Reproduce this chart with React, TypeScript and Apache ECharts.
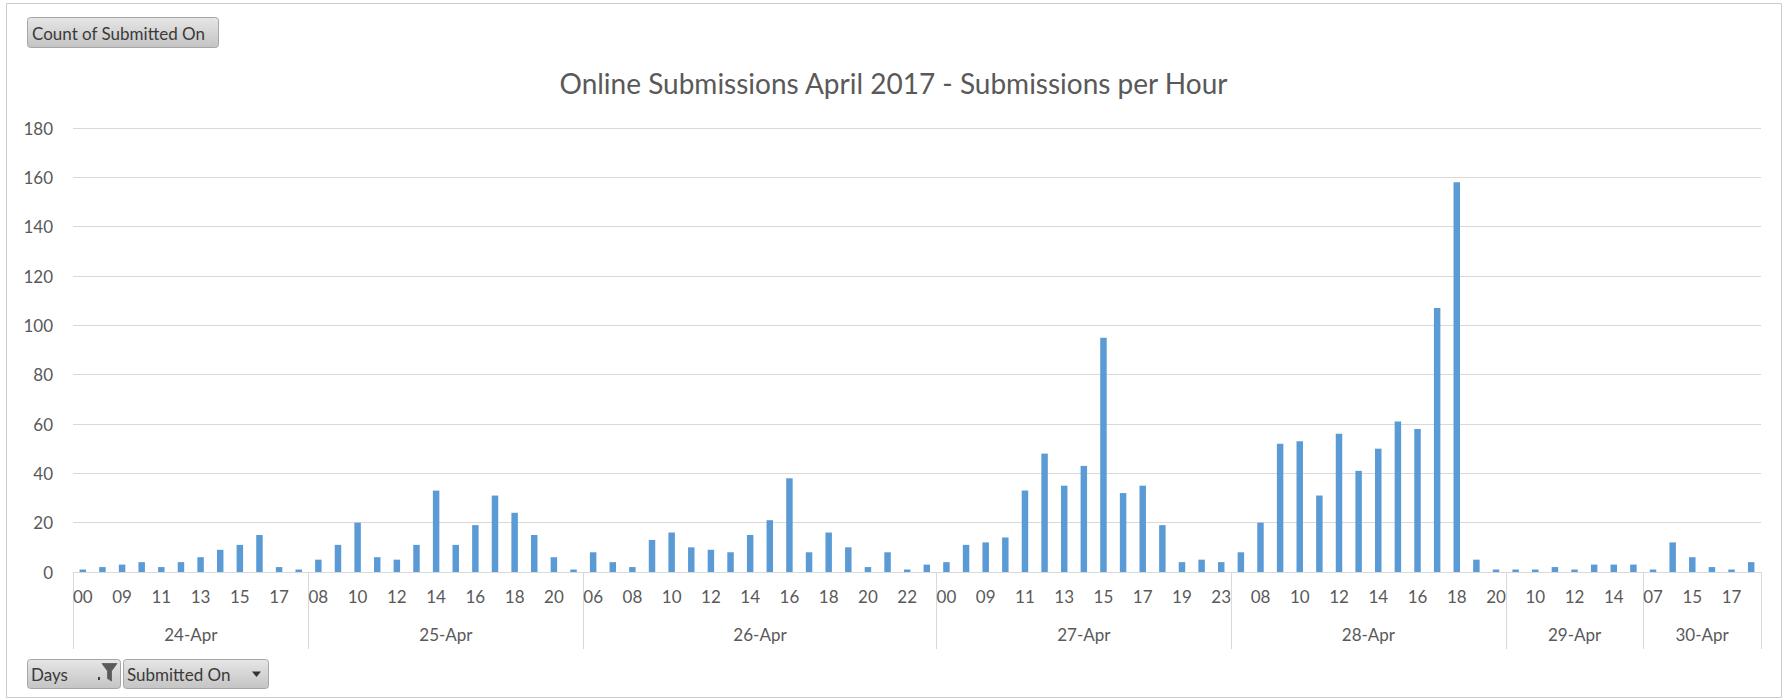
import React, { useEffect, useRef } from 'react';
import * as echarts from 'echarts';

const titleText = 'Online Submissions April 2017 - Submissions per Hour';
const days = ['24-Apr', '25-Apr', '26-Apr', '27-Apr', '28-Apr', '29-Apr', '30-Apr'];

const hours24 = ['00', '08', '09', '10', '11', '12', '13', '14', '15', '16', '17', '18'];
const counts24 = [1, 2, 3, 4, 2, 4, 6, 9, 11, 15, 2, 1];
const hours25 = ['08', '09', '10', '11', '12', '13', '14', '15', '16', '17', '18', '19', '20', '21'];
const counts25 = [5, 11, 20, 6, 5, 11, 33, 11, 19, 31, 24, 15, 6, 1];
const hours26 = ['06', '07', '08', '09', '10', '11', '12', '13', '14', '15', '16', '17', '18', '19', '20', '21', '22', '23'];
const counts26 = [8, 4, 2, 13, 16, 10, 9, 8, 15, 21, 38, 8, 16, 10, 2, 8, 1, 3];
const hours27 = ['00', '08', '09', '10', '11', '12', '13', '14', '15', '16', '17', '18', '19', '20', '23'];
const counts27 = [4, 11, 12, 14, 33, 48, 35, 43, 95, 32, 35, 19, 4, 5, 4];
const hours28 = ['07', '08', '09', '10', '11', '12', '13', '14', '15', '16', '17', '18', '19', '20'];
const counts28 = [8, 20, 52, 53, 31, 56, 41, 50, 61, 58, 107, 158, 5, 1];
const hours29 = ['09', '10', '11', '12', '13', '14', '15'];
const counts29 = [1, 1, 2, 1, 3, 3, 3];
const hours30 = ['07', '14', '15', '16', '17', '18'];
const counts30 = [1, 12, 6, 2, 1, 4];

const dayHours = [hours24, hours25, hours26, hours27, hours28, hours29, hours30];
const dayCounts = [counts24, counts25, counts26, counts27, counts28, counts29, counts30];

const yMin = 0;
const yMax = 180;
const yStep = 20;

const FONT = 'Lato, "Open Sans", sans-serif';
const TEXT = '#595959';
const GRID = '#d9d9d9';

export default function App() {
  const ref = useRef<HTMLDivElement>(null);

  useEffect(() => {
    document.body.style.margin = '0';
    const chart = echarts.init(ref.current!, null, { renderer: 'svg' });

    const cats: string[] = [];
    const values: number[] = [];
    const bounds = new Set<number>([0]);
    const centers = new Map<number, string>();
    let start = 0;
    days.forEach((d, i) => {
      dayHours[i].forEach((h, j) => {
        cats.push(d + '|' + h);
        values.push(dayCounts[i][j]);
      });
      centers.set(2 * start + dayHours[i].length, d);
      start += dayHours[i].length;
      bounds.add(2 * start);
    });
    const halfCats = Array.from({ length: 2 * start + 1 }, (_, k) => 'p' + k);

    const btnFill = new echarts.graphic.LinearGradient(0, 0, 0, 1, [
      { offset: 0, color: '#e6e6e6' },
      { offset: 1, color: '#c4c4c4' },
    ]);
    const btn = (x: number, y: number, w: number, h: number) => ({
      type: 'rect',
      shape: { x, y, width: w, height: h, r: 3 },
      style: { fill: btnFill, stroke: '#a6a6a6', lineWidth: 1 },
    });
    const btnText = (x: number, y: number, text: string) => ({
      type: 'text',
      x,
      y,
      style: { text, fill: '#3a3a3a', font: '17px ' + FONT, textVerticalAlign: 'middle', textAlign: 'left' },
    });

    chart.setOption({
      animation: false,
      backgroundColor: '#ffffff',
      title: {
        text: titleText,
        left: 'center',
        top: 66,
        padding: 0,
        textStyle: { fontFamily: FONT, fontSize: 28, fontWeight: 'normal', color: TEXT, lineHeight: 34 },
      },
      grid: { left: 73, right: 26, top: 128, bottom: 128, containLabel: false },
      xAxis: [
        {
          type: 'category',
          data: cats,
          position: 'bottom',
          boundaryGap: true,
          axisLine: { show: true, lineStyle: { color: GRID, width: 1 } },
          axisTick: { show: false },
          axisLabel: {
            interval: 1,
            margin: 16,
            fontSize: 17,
            fontFamily: FONT,
            color: TEXT,
            formatter: (v: string) => v.split('|')[1],
          },
          splitLine: { show: false },
        },
        {
          type: 'category',
          data: halfCats,
          position: 'bottom',
          boundaryGap: false,
          axisLine: { show: false },
          axisTick: {
            show: true,
            interval: (index: number) => bounds.has(index),
            length: 77,
            lineStyle: { color: GRID, width: 1 },
          },
          axisLabel: {
            interval: (index: number) => centers.has(index),
            margin: 54,
            fontSize: 17,
            fontFamily: FONT,
            color: TEXT,
            formatter: (v: string) => centers.get(Number(v.slice(1))) ?? '',
          },
          splitLine: { show: false },
        },
      ],
      yAxis: {
        type: 'value',
        min: yMin,
        max: yMax,
        interval: yStep,
        axisLine: { show: false },
        axisTick: { show: false },
        axisLabel: { margin: 20, fontSize: 17, fontFamily: FONT, color: TEXT },
        splitLine: { show: true, lineStyle: { color: GRID, width: 1 } },
      },
      series: [
        {
          type: 'bar',
          name: 'Count of Submitted On',
          xAxisIndex: 0,
          data: values,
          barWidth: '33%',
          itemStyle: { color: '#5B9BD5' },
          silent: true,
        },
      ],
      graphic: [
        {
          type: 'rect',
          shape: { x: 6.5, y: 3.5, width: 1775, height: 694 },
          style: { fill: 'none', stroke: '#cccccc', lineWidth: 1 },
          silent: true,
        },
        btn(27.5, 17.5, 191, 30),
        btnText(32, 33, 'Count of Submitted On'),
        btn(27.5, 659.5, 93, 29),
        btnText(31, 674.5, 'Days'),
        {
          type: 'rect',
          shape: { x: 98, y: 677, width: 2, height: 3 },
          style: { fill: '#404040' },
        },
        {
          type: 'polygon',
          shape: { points: [[102, 663.5], [117, 663.5], [111.5, 671], [111.5, 681], [107.5, 678.5], [107.5, 671]] },
          style: { fill: '#5a5a5a', stroke: '#5a5a5a', lineWidth: 0.8 },
        },
        btn(123.5, 659.5, 145, 29),
        btnText(127, 674.5, 'Submitted On'),
        {
          type: 'polygon',
          shape: { points: [[252, 671.5], [261, 671.5], [256.5, 677]] },
          style: { fill: '#333333' },
        },
      ],
    });

    return () => chart.dispose();
  }, []);

  return <div ref={ref} style={{ position: 'absolute', left: 0, top: 0, width: 1787, height: 700 }} />;
}
